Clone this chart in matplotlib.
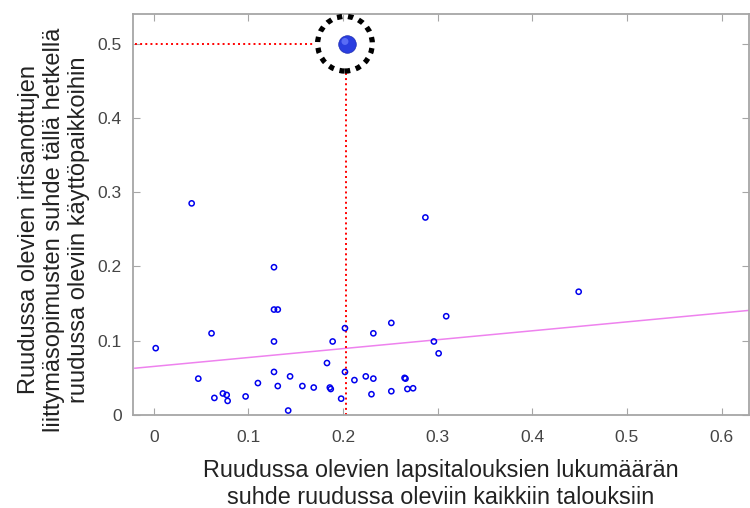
import matplotlib.pyplot as plt
import numpy as np

plt.rcParams['font.family'] = ['Liberation Sans', 'DejaVu Sans']

# scatter data (share of child households vs share of terminated contracts)
x_vals = [0.040, 0.127, 0.127, 0.131, 0.002, 0.061, 0.127, 0.189, 0.183, 0.047,
          0.127, 0.144, 0.110, 0.131, 0.157, 0.169, 0.186, 0.187, 0.073, 0.077,
          0.064, 0.078, 0.097, 0.142, 0.287, 0.309, 0.251, 0.202, 0.232, 0.296,
          0.301, 0.202, 0.224, 0.212, 0.232, 0.265, 0.266, 0.251, 0.268, 0.274,
          0.230, 0.198, 0.449]
y_vals = [0.285, 0.199, 0.142, 0.142, 0.090, 0.110, 0.099, 0.099, 0.070, 0.049,
          0.058, 0.052, 0.043, 0.039, 0.039, 0.037, 0.037, 0.035, 0.029, 0.027,
          0.023, 0.019, 0.025, 0.006, 0.266, 0.133, 0.124, 0.117, 0.110, 0.099,
          0.083, 0.058, 0.052, 0.047, 0.049, 0.050, 0.049, 0.032, 0.035, 0.036,
          0.028, 0.022, 0.166]

# highlighted cell
hl_x = 0.204
hl_y = 0.5

# fitted trend line end points
fit_x = [-0.02, 0.63]
fit_y = [0.063, 0.141]

x_ticks = [0, 0.1, 0.2, 0.3, 0.4, 0.5, 0.6]
y_ticks = [0, 0.1, 0.2, 0.3, 0.4, 0.5]

fig = plt.figure(figsize=(7.5, 5.08), dpi=100)
ax = fig.add_axes([133/750, 93/508, 616/750, 401/508])

grey = '#a6a6a6'
ax.plot(fit_x, fit_y, color='#ee82ee', lw=1.1, zorder=2)
ax.scatter(x_vals, y_vals, s=14, facecolors='none', edgecolors='#0000ee',
           linewidths=1.1, zorder=3)

# guide lines to the highlighted point
ax.plot([-0.02, hl_x - 0.034], [hl_y, hl_y], color='red', ls=':', lw=1.4, zorder=2)
ax.plot([hl_x - 0.001, hl_x - 0.001], [0, hl_y - 0.038], color='red', ls=':', lw=1.4, zorder=2)

ax.scatter([hl_x], [hl_y], s=160, color='#2a3ee0', edgecolors='#1a2ab0',
           linewidths=0.5, zorder=4)
ax.scatter([hl_x - 0.002], [hl_y + 0.003], s=25, color='#6f80ff', edgecolors='none',
           zorder=5, alpha=0.7)
ax.scatter([hl_x - 0.002], [hl_y], s=1550, facecolors='none', edgecolors='black',
           linewidths=3.8, linestyles=(0, (1, 1.1)), zorder=4)

ax.set_xlim(-0.022, 0.629)
ax.set_ylim(0, 0.540)
ax.set_xticks(x_ticks)
ax.set_xticklabels(['0', '0.1', '0.2', '0.3', '0.4', '0.5', '0.6'])
ax.set_yticks(y_ticks)
ax.set_yticklabels(['0', '0.1', '0.2', '0.3', '0.4', '0.5'])

for s in ax.spines.values():
    s.set_color(grey)
    s.set_linewidth(1.3)
ax.tick_params(direction='in', length=5, color=grey, labelsize=12.5,
               labelcolor='#444444', top=True, right=True)
ax.tick_params(axis='x', pad=11)
ax.tick_params(axis='y', pad=8)

ax.set_xlabel('Ruudussa olevien lapsitalouksien lukumäärän\n'
              'suhde ruudussa oleviin kaikkiin talouksiin',
              fontsize=16.8, color='#222222', labelpad=10, linespacing=1.2)
ax.set_ylabel('Ruudussa olevien irtisanottujen\n'
              'liittymäsopimusten suhde tällä hetkellä\n'
              'ruudussa oleviin käyttöpaikkoihin',
              fontsize=17, color='#222222', linespacing=1.18)
ax.yaxis.set_label_coords(-0.069, 0.463)

fig.savefig('out.png', dpi=100)
